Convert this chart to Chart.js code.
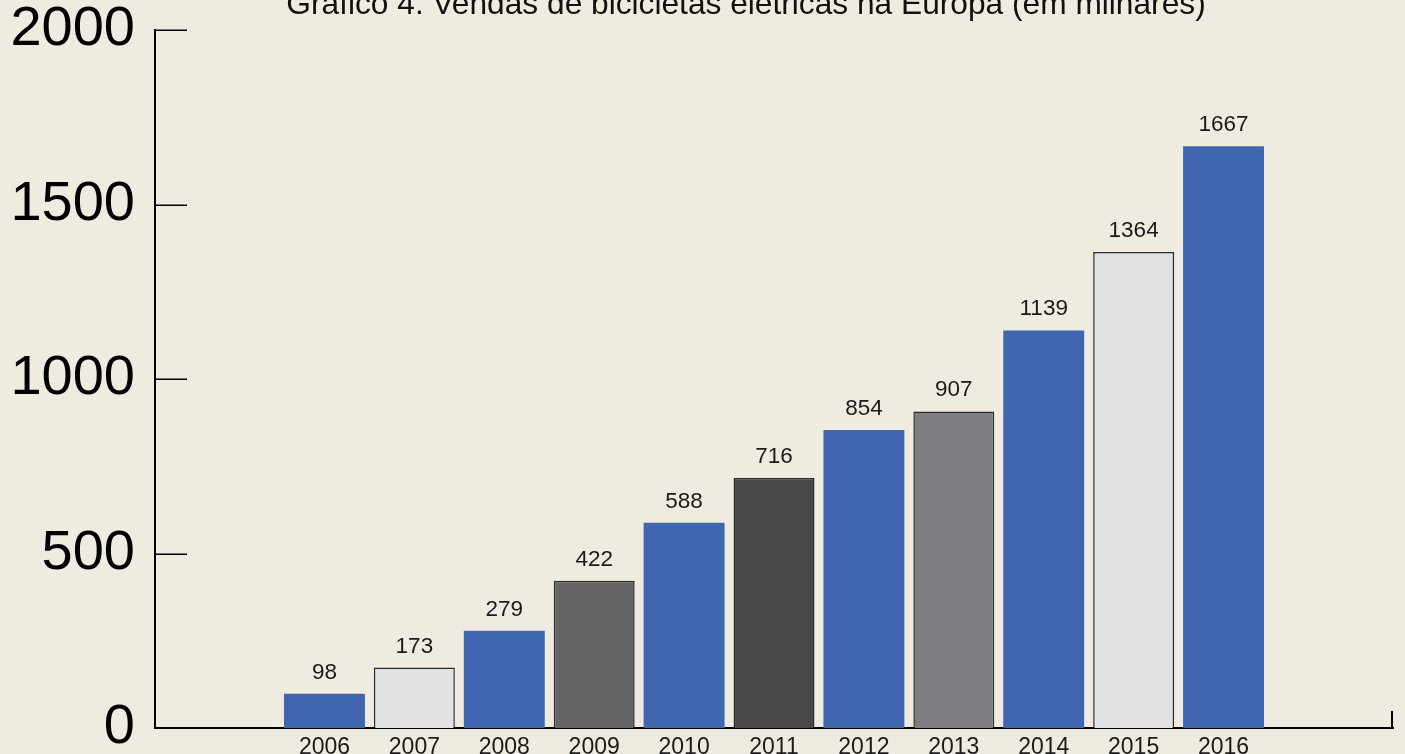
<!DOCTYPE html>
<html lang="pt">
<head>
<meta charset="utf-8">
<title>Vendas de bicicletas elétricas na Europa</title>
<script src="https://cdn.jsdelivr.net/npm/chart.js@4"></script>
<style>
    html, body {
        margin: 0;
        padding: 0;
        overflow: hidden;
        background: #efebe0;
    }
    #caixa {
        position: relative;
        width: 1405px;
        height: 818px;
        margin-top: -18px;
    }
</style>
</head>
<body>
<div id="caixa"><canvas id="grafico"></canvas></div>
<script>
// Dados do gráfico
const titulo = 'Gráfico 4. Vendas de bicicletas elétricas na Europa (em milhares)';
const anos = [2006, 2007, 2008, 2009, 2010, 2011, 2012, 2013, 2014, 2015, 2016];
const vendas = [98, 173, 279, 422, 588, 716, 854, 907, 1139, 1364, 1667];
const ticksY = [0, 500, 1000, 1500, 2000];

// Cores das barras
const coresBarras = ['#3f66ae', '#e0e1e3', '#3f66ae', '#646567', '#3f66ae', '#47474a',
                     '#3f66ae', '#7d7e82', '#3f66ae', '#e0e1e3', '#3f66ae'];
const coresBorda = ['#3f66ae', '#2a2a2a', '#3f66ae', '#2a2a2a', '#3f66ae', '#2a2a2a',
                    '#3f66ae', '#2a2a2a', '#3f66ae', '#2a2a2a', '#3f66ae'];
const bordas = [0, 1.5, 0, 1.5, 0, 1.5, 0, 1.5, 0, 1.5, 0];

const fonte = '"Liberation Sans", Helvetica, Arial, sans-serif';

// Título, marcas internas dos eixos e rótulos de valor
const extras = {
    id: 'extras',
    afterDraw(chart) {
        const ctx = chart.ctx;
        const area = chart.chartArea;
        const y = chart.scales.y;

        ctx.save();
        ctx.strokeStyle = '#000';

        // marcas do eixo Y voltadas para dentro
        ctx.lineWidth = 1.5;
        ticksY.forEach(v => {
            const py = Math.round(y.getPixelForValue(v)) + 0.25;
            ctx.beginPath();
            ctx.moveTo(area.left, py);
            ctx.lineTo(area.left + 32, py);
            ctx.stroke();
        });

        // marca no fim do eixo X
        ctx.lineWidth = 2;
        ctx.beginPath();
        ctx.moveTo(area.right - 1, area.bottom);
        ctx.lineTo(area.right - 1, area.bottom - 17);
        ctx.stroke();

        // valores acima das barras
        ctx.fillStyle = '#1a1a1a';
        ctx.font = '22.5px ' + fonte;
        ctx.textAlign = 'center';
        ctx.textBaseline = 'alphabetic';
        chart.getDatasetMeta(0).data.forEach((barra, i) => {
            ctx.fillText(String(vendas[i]), barra.x, barra.y - 15);
        });

        // título (cortado no topo como no original)
        ctx.fillStyle = '#111';
        ctx.font = '31.7px ' + fonte;
        ctx.fillText(titulo, 746, area.top - 16);
        ctx.restore();
    }
};

const ctx = document.getElementById('grafico').getContext('2d');
new Chart(ctx, {
    type: 'bar',
    data: {
        datasets: [{
            data: anos.map((a, i) => ({ x: a, y: vendas[i] })),
            backgroundColor: coresBarras,
            borderColor: coresBorda,
            borderWidth: bordas,
            barPercentage: 0.9,
            categoryPercentage: 1.0
        }]
    },
    options: {
        responsive: true,
        maintainAspectRatio: false,
        animation: false,
        layout: {
            padding: { top: 12, right: 12, bottom: 32, left: 0 }
        },
        plugins: {
            legend: { display: false },
            tooltip: { enabled: false },
            title: { display: false }
        },
        scales: {
            x: {
                type: 'linear',
                offset: false,
                min: 2004.115,
                max: 2017.885,
                afterBuildTicks: s => { s.ticks = anos.map(v => ({ value: v })); },
                afterFit: s => { s.height = 40; },
                grid: { display: false, drawTicks: false },
                border: { display: true, color: '#000', width: 2 },
                ticks: {
                    padding: 6,
                    color: '#1a1a1a',
                    font: { family: fonte, size: 23 },
                    maxRotation: 0,
                    autoSkip: false,
                    callback: v => String(v)
                }
            },
            y: {
                min: 0,
                max: 2000,
                afterBuildTicks: s => { s.ticks = ticksY.map(v => ({ value: v })); },
                afterFit: s => { s.width = 155; },
                grid: { display: false, drawTicks: false },
                border: { display: true, color: '#000', width: 2 },
                ticks: {
                    padding: 20,
                    color: '#000',
                    font: { family: fonte, size: 56, lineHeight: 1 },
                    callback: v => String(v)
                }
            }
        }
    },
    plugins: [extras]
});
</script>
</body>
</html>
